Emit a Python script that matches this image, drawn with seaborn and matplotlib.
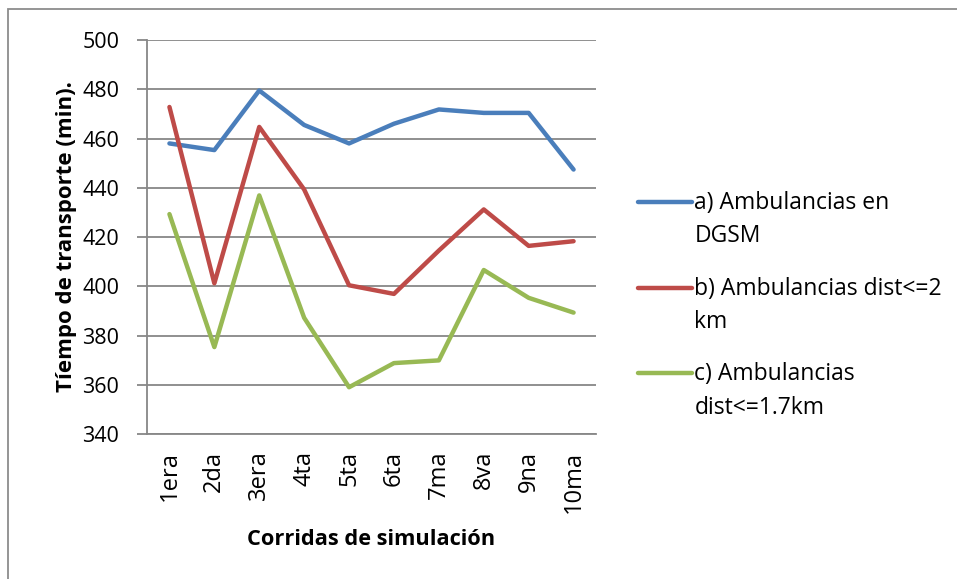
import pandas as pd
import seaborn as sns
import matplotlib.pyplot as plt
from matplotlib.patches import Rectangle
from matplotlib.legend_handler import HandlerLine2D

corridas = ['1era', '2da', '3era', '4ta', '5ta', '6ta', '7ma', '8va', '9na', '10ma']
amb_dgsm = [458.0, 455.3, 479.5, 465.5, 458.0, 466.0, 471.8, 470.4, 470.4, 447.4]
amb_dist_2 = [472.8, 401.2, 464.7, 439.3, 400.4, 396.9, 414.5, 431.2, 416.4, 418.3]
amb_dist_17 = [429.3, 375.3, 436.9, 387.2, 359.0, 368.8, 369.9, 406.6, 395.3, 389.3]

series = ['a) Ambulancias en\nDGSM', 'b) Ambulancias dist<=2\nkm', 'c) Ambulancias\ndist<=1.7km']
colores = ['#4A7EBB', '#BE4B48', '#98B954']

df = pd.DataFrame({
    'corrida': corridas * 3,
    'tiempo': amb_dgsm + amb_dist_2 + amb_dist_17,
    'serie': [series[0]] * 10 + [series[1]] * 10 + [series[2]] * 10,
})


class LineaArriba(HandlerLine2D):
    # la linea de la leyenda va a la altura de la primera linea del texto
    def create_artists(self, legend, orig_handle, xdescent, ydescent, width, height, fontsize, trans):
        return super().create_artists(legend, orig_handle, xdescent, ydescent - 27, width, height, fontsize, trans)


sns.set_style('white')
plt.rcParams['font.family'] = ['Open Sans', 'DejaVu Sans']
plt.rcParams['text.color'] = 'black'
plt.rcParams['axes.labelcolor'] = 'black'

fig = plt.figure(figsize=(9.57, 5.79), dpi=100)
ax = fig.add_axes([0.1536, 0.2504, 0.4692, 0.6805])

sns.lineplot(data=df, x='corrida', y='tiempo', hue='serie', palette=colores,
             linewidth=3.2, sort=False, ax=ax, legend=True)

gris = '#878787'
ax.set_xlim(-0.5, 9.5)
ax.set_ylim(340, 500)
ax.set_yticks(range(340, 501, 20))
ax.yaxis.grid(True, color=gris, linewidth=1.3)
ax.set_axisbelow(True)
for lado in ['top', 'right']:
    ax.spines[lado].set_visible(False)
for lado in ['left', 'bottom']:
    ax.spines[lado].set_color(gris)
    ax.spines[lado].set_linewidth(1.3)
ax.tick_params(axis='y', left=True, length=7, width=1.3, color=gris, labelcolor='black', labelsize=15.5, pad=13)
ax.tick_params(axis='x', bottom=False, labelcolor='black', labelsize=17, pad=8.5, labelrotation=90)

ax.set_xlabel('Corridas de simulación', fontsize=15.7, fontweight='bold', labelpad=12)
ax.set_ylabel('Tíempo de transporte (min).', fontsize=16, fontweight='bold', labelpad=4)

handles, labels = ax.get_legend_handles_labels()
ax.get_legend().remove()
ley = fig.legend(handles, labels, loc='upper left', bbox_to_anchor=(0.6546, 0.690),
                 frameon=False, fontsize=16.5, handlelength=2.36, handletextpad=0.1,
                 labelspacing=1.23, borderpad=0,
                 handler_map={h: LineaArriba() for h in handles})
for t in ley.get_texts():
    t.set_linespacing(1.53)

fig.patches.append(Rectangle((8 / 957, -0.1), 1.2, 1.1 - 9 / 579, transform=fig.transFigure,
                             fill=False, edgecolor='#8c8c8c', linewidth=1.3))

fig.savefig('out.png', dpi=100)
